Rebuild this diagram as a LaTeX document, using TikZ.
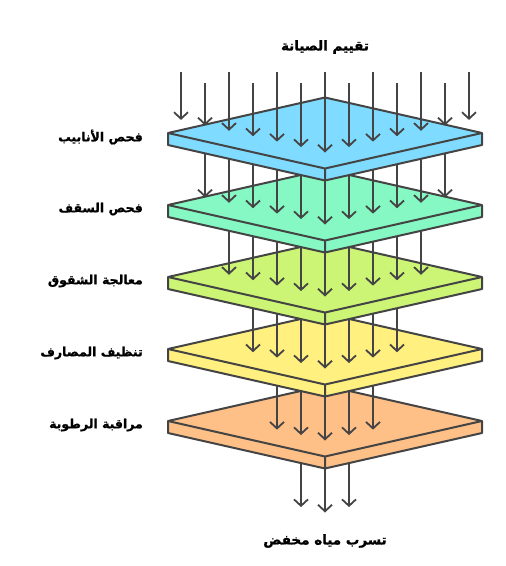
\documentclass[tikz,border=0pt]{standalone}
\usepackage{fontspec}
\usepackage{tikz}
\usetikzlibrary{arrows.meta}
\TeXXeTstate=1
\newfontfamily\arabicfont[Script=Arabic,FakeBold=1.2]{DejaVu Sans Bold}
\definecolor{linegray}{HTML}{444444}
\definecolor{layerA}{HTML}{7FDBFF}
\definecolor{layerB}{HTML}{85F8C3}
\definecolor{layerC}{HTML}{CCF576}
\definecolor{layerD}{HTML}{FFF07F}
\definecolor{layerE}{HTML}{FFC088}

\begin{document}
\begin{tikzpicture}[x=1pt,y=-1pt,
  flow/.style={draw=linegray,line width=1.8pt,-{Straight Barb[length=6.5pt,width=14pt]}},
  plate/.style={draw=linegray,line width=2pt,line join=round},
  label node/.style={font=\arabicfont\fontsize{12.5}{14}\selectfont,anchor=east,inner sep=0pt},
  title node/.style={font=\arabicfont\fontsize{13.5}{15}\selectfont,inner sep=0pt}]

  \useasboundingbox (0,0) rectangle (506,566);

  % plates from the bottom up, each with the arrows that leave it
  \foreach \j/\c/\col/\txt in {5/421/layerE/مراقبة الرطوبة,4/349/layerD/تنظيف المصارف,
      3/277/layerC/معالجة الشقوق,2/205/layerB/فحص السقف,1/133/layerA/فحص الأنابيب}{
    \pgfmathtruncatemacro\xa{181+24*\j}
    \pgfmathtruncatemacro\xb{\xa+24}
    \pgfmathtruncatemacro\xz{469-24*\j}
    \foreach \x in {\xa,\xb,...,\xz}{
      \pgfmathsetmacro\ys{\c+19.5-0.226*abs(\x-325)}
      \coordinate (s\j-\x) at (\x,\ys);
      \coordinate (e\j-\x) at (\x,\ys+72);
      \draw[flow] (s\j-\x) -- (e\j-\x);
    }
    \filldraw[plate,fill=\col] (168,\c) -- (325,\c-35.5) -- (482,\c) -- (482,\c+12)
      -- (325,\c+47.5) -- (168,\c+12) -- cycle;
    \draw[plate] (168,\c) -- (325,\c+35.5) -- (482,\c) (325,\c+35.5) -- (325,\c+47.5);
    \node[label node] (lab\j) at (143,\c+4) {\beginR\txt\endR};
  }

  % incoming arrows
  \foreach \i in {0,...,12}{
    \pgfmathtruncatemacro\x{181+24*\i}
    \pgfmathsetmacro\ys{72+11*mod(\i,2)}
    \pgfmathsetmacro\ye{152.5-0.226*abs(\x-325)}
    \coordinate (s0-\x) at (\x,\ys);
    \coordinate (e0-\x) at (\x,\ye);
    \draw[flow] (s0-\x) -- (e0-\x);
  }

  \node[title node] (title) at (325,47) {\beginR تقييم الصيانة\endR};
  \node[title node] (result) at (325,541) {\beginR تسرب مياه مخفض\endR};
\end{tikzpicture}
\end{document}
